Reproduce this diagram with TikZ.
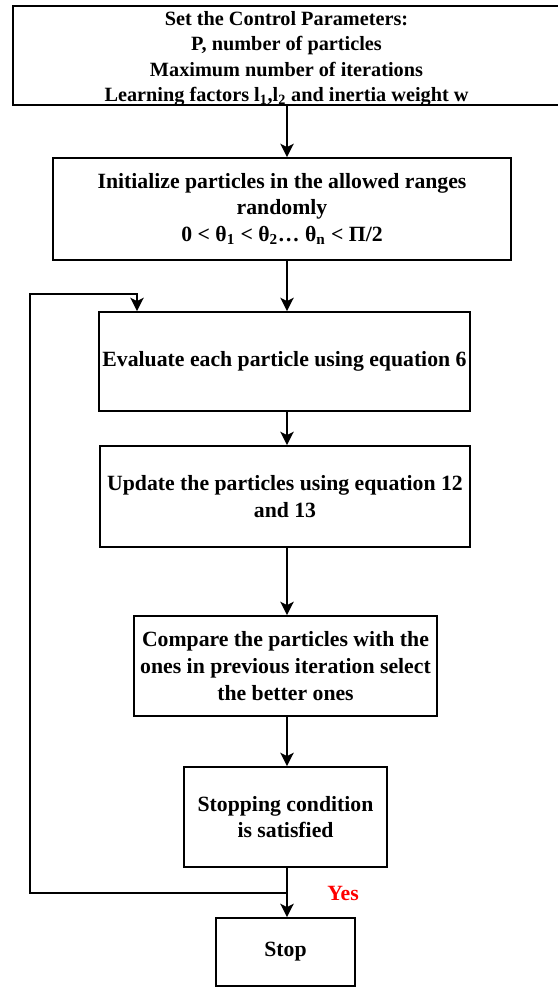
\documentclass[tikz,border=0pt]{standalone}
\usepackage{fontspec}
\setmainfont{Liberation Serif}
\usetikzlibrary{arrows.meta}
\begin{document}
\begin{tikzpicture}[x=0.75pt,y=-0.75pt,
  box/.style={draw, line width=1.3pt, inner sep=0pt, align=center,
    font=\bfseries\fontsize{16.3}{20}\selectfont},
  arr/.style={line width=1.3pt, -{Stealth[length=10pt,width=10pt,inset=2.5pt]}},
  lin/.style={line width=1.3pt}]
\useasboundingbox (0,0) rectangle (557,989);
\node[box, minimum width=410.25pt, minimum height=74.25pt,
  label={[align=center, inner sep=0pt, yshift=-2.5pt,
    font=\bfseries\fontsize{15.2}{19}\selectfont]center:{Set the Control Parameters:\\P, number of particles\\Maximum number of iterations\\Learning factors l\textsubscript{1},l\textsubscript{2} and inertia weight w}}]
  (b1) at (286.5,55.5) {};
\node[box, minimum width=343.5pt, minimum height=76.5pt] (b2) at (282,209)
  {Initialize particles in the allowed ranges\\randomly\\0 < θ\textsubscript{1} < θ\textsubscript{2}… θ\textsubscript{n} < Π/2};
\node[box, minimum width=278.25pt, minimum height=74.25pt] (b3) at (284.5,361.5)
  {Evaluate each particle using equation 6};
\node[box, minimum width=277.5pt, minimum height=75.75pt] (b4) at (285,496.5)
  {Update the particles using equation 12\\and 13};
\node[box, minimum width=227.25pt, minimum height=75pt] (b5) at (285.5,666)
  {Compare the particles with the\\ones in previous iteration select\\the better ones};
\node[box, minimum width=152.25pt, minimum height=75pt] (b6) at (285.5,817)
  {Stopping condition\\is satisfied};
\node[box, minimum width=104.25pt, minimum height=51pt] (stop) at (285.5,952)
  {Stop};
\node[font=\bfseries\fontsize{16.3}{20}\selectfont, text=red, inner sep=0pt] (yes) at (343,893) {Yes};
\coordinate (cx) at (287,0);
\coordinate (j) at (287,893);
\coordinate (l1) at (30,893);
\coordinate (l2) at (30,294);
\coordinate (l3) at (137,294);
\draw[arr] (b1.south -| cx) -- (b2.north -| cx);
\draw[arr] (b2.south -| cx) -- (b3.north -| cx);
\draw[arr] (b3.south -| cx) -- (b4.north -| cx);
\draw[arr] (b4.south -| cx) -- (b5.north -| cx);
\draw[arr] (b5.south -| cx) -- (b6.north -| cx);
\draw[arr] (b6.south -| cx) -- (stop.north -| cx);
\draw[arr] (j) -- (l1) -- (l2) -- (l3) -- (l3 |- b3.north);
\end{tikzpicture}
\end{document}
